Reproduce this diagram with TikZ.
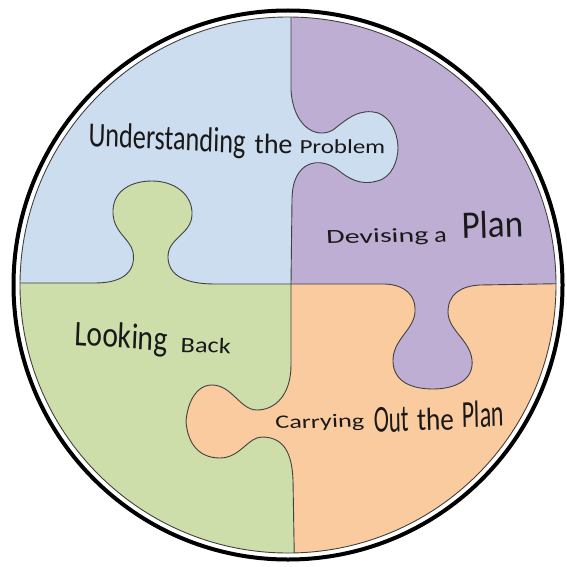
\documentclass[tikz,border=0pt]{standalone}
\usepackage{fontspec}
\setmainfont{Carlito}
\usepackage{tikz}
\definecolor{probblue}{RGB}{204,221,240}
\definecolor{planpurple}{RGB}{191,174,211}
\definecolor{carryorange}{RGB}{250,203,158}
\definecolor{backgreen}{RGB}{205,222,170}

% the two cuts between the pieces, one down and one across
\newcommand\cutV{(291,-20) -- (291,90) .. controls (293,125) and (315,140) .. (333,130) .. controls (348,118) and (360,108) .. (378,113) .. controls (395,120) and (398,140) .. (398,148) .. controls (398,160) and (392,178) .. (377,181) .. controls (360,186) and (348,178) .. (338,170) .. controls (320,156) and (292,160) .. (292,200) -- (291,284) -- (291,365) .. controls (291,395) and (275,410) .. (257,410) .. controls (240,410) and (232,385) .. (212,385) .. controls (195,385) and (187,405) .. (186,422) .. controls (188,445) and (200,458) .. (220,458) .. controls (240,458) and (248,437) .. (262,437) .. controls (285,437) and (292,455) .. (293,480) -- (295,600)}
\newcommand\cutH{(-20,283) -- (95,283) .. controls (125,283) and (136,270) .. (133,252) .. controls (130,238) and (112,232) .. (113,210) .. controls (114,190) and (132,181) .. (152,181) .. controls (175,181) and (193,195) .. (192,215) .. controls (191,235) and (167,238) .. (168,258) .. controls (169,278) and (190,284) .. (215,284) -- (291,284) -- (385,284) .. controls (405,285) and (416,295) .. (415,312) .. controls (414,330) and (392,340) .. (393,362) .. controls (394,382) and (412,389) .. (433,389) .. controls (455,389) and (474,380) .. (472,360) .. controls (470,340) and (448,330) .. (448,312) .. controls (448,295) and (460,286) .. (480,285) -- (600,283)}

\tikzset{
  cut/.style={draw=black!75, line width=0.45pt},
  word/.style={anchor=base west, inner sep=0pt, text=black!90, font=\fontsize{#1}{#1}\selectfont}
}

\begin{document}
\begin{tikzpicture}[x=0.5pt, y=-0.5pt]
\useasboundingbox (0,0) rectangle (567,567);
\begin{scope}
\clip (288,285) circle (268);
\begin{scope}
\clip \cutV -- (-20,600) -- (-20,-20) -- cycle;
\clip \cutH -- (600,-20) -- (-20,-20) -- cycle;
\fill [probblue] (-20,-20) rectangle (600,600);
\end{scope}
\begin{scope}
\clip \cutV -- (600,600) -- (600,-20) -- cycle;
\clip \cutH -- (600,-20) -- (-20,-20) -- cycle;
\fill [planpurple] (-20,-20) rectangle (600,600);
\end{scope}
\begin{scope}
\clip \cutV -- (-20,600) -- (-20,-20) -- cycle;
\clip \cutH -- (600,600) -- (-20,600) -- cycle;
\fill [backgreen] (-20,-20) rectangle (600,600);
\end{scope}
\begin{scope}
\clip \cutV -- (600,600) -- (600,-20) -- cycle;
\clip \cutH -- (600,600) -- (-20,600) -- cycle;
\fill [carryorange] (-20,-20) rectangle (600,600);
\end{scope}
\draw [cut] \cutV;
\draw [cut] \cutH;
\end{scope}
\draw [cut] (288,285) circle (268);
\draw [line width=2pt] (288,285) circle (274.5);

\node (und) [word=17.5, xscale=0.75, rotate=-2] at (88,146) {Understanding};
\node (the1) [word=14, rotate=-1] at (254,153) {the};
\node (prob) [word=10, xscale=1.25, rotate=-0.5] at (299,153) {Problem};
\node (dev) [word=10, xscale=1.5, rotate=2] at (326,244) {Devising};
\node (a) [word=11, xscale=1.2, rotate=2] at (434,243) {a};
\node (plan1) [word=19.5, xscale=0.9, rotate=2] at (462,239) {Plan};
\node (look) [word=18, xscale=0.82, rotate=-3] at (74,345) {Looking};
\node (back) [word=11, xscale=1.2, rotate=-2] at (180,352) {Back};
\node (carr) [word=9.5, xscale=1.38, rotate=2] at (275,429) {Carrying};
\node (out) [word=19, xscale=0.6, rotate=2] at (374,433) {Out};
\node (the2) [word=16, xscale=0.85, rotate=2] at (417,431) {the};
\node (plan2) [word=19, xscale=0.63, rotate=2] at (462,428) {Plan};
\end{tikzpicture}
\end{document}
